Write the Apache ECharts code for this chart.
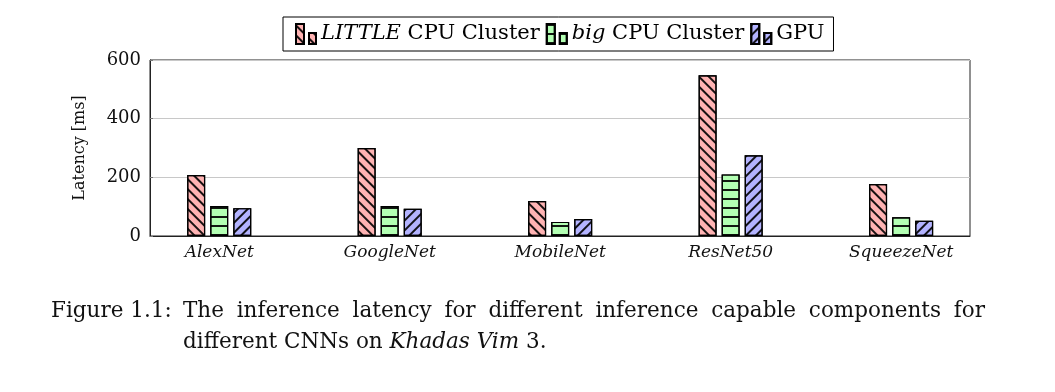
<!DOCTYPE html>
<html>
<head>
<meta charset="utf-8">
<script src="https://cdn.jsdelivr.net/npm/echarts@6/dist/echarts.min.js"></script>
<style>html,body{margin:0;padding:0;background:#fff}#c{width:1055px;height:392px}</style>
</head>
<body>
<div id="c"></div>
<script>
const categories = ['AlexNet', 'GoogleNet', 'MobileNet', 'ResNet50', 'SqueezeNet'];
const littleCpu = [208, 300, 119, 548, 177];
const bigCpu = [102, 102, 48, 210, 64];
const gpu = [95, 93, 58, 275, 52];
const yTicks = [0, 200, 400, 600];
const seriesNames = ['LITTLE CPU Cluster', 'big CPU Cluster', 'GPU'];
const captionLabel = 'Figure 1.1:';
const captionLine1 = 'The inference latency for different inference capable components for';
const captionLine2 = 'different CNNs on {i|Khadas Vim} 3.';

const SERIF = '"DejaVu Serif", "Liberation Serif", serif';
const CAP_SIZE = 21.5;
const iconPath = 'path://M0,0h8v20h-8z M13,9h7v11h-7z';

// justify first caption line to the text block width
const ctx = document.createElement('canvas').getContext('2d');
ctx.font = CAP_SIZE + 'px "DejaVu Serif"';
const words = captionLine1.split(' ');
const wordsWidth = words.reduce((a, w) => a + ctx.measureText(w).width, 0);
const spaceW = Math.max(ctx.measureText(' ').width, (802 - wordsWidth) / (words.length - 1));

function mkDecal(rot, gap) {
  return { symbol: 'rect', symbolSize: 1, dashArrayX: [1, 0], dashArrayY: [1.1, gap], rotation: rot, color: 'rgba(0,0,0,0.9)' };
}
function mkSeries(name, vals, fill, decal) {
  return {
    name: name, type: 'bar', barWidth: 18, barGap: '28%',
    data: vals.map((v, i) => [i, v]),
    itemStyle: { color: fill, borderColor: '#000', borderWidth: 1.2, decal: decal },
    emphasis: { disabled: true }
  };
}
const chart = echarts.init(document.getElementById('c'), null, { renderer: 'canvas' });
chart.setOption({
  animation: false,
  backgroundColor: '#fff',
  title: [
    { text: captionLabel, left: 46, top: 295, textStyle: { fontFamily: SERIF, fontSize: CAP_SIZE, fontWeight: 'normal', color: '#111' } },
    { text: words.join('{s| }') + '\n' + captionLine2, left: 178, top: 291,
      textStyle: { fontFamily: SERIF, fontSize: CAP_SIZE, fontWeight: 'normal', color: '#111', lineHeight: 31,
        rich: {
          s: { fontFamily: SERIF, fontSize: CAP_SIZE, width: spaceW, lineHeight: 31 },
          i: { fontFamily: SERIF, fontSize: CAP_SIZE, fontStyle: 'italic', color: '#111', lineHeight: 31 }
        } } }
  ],
  legend: {
    left: 283, top: 17, itemGap: 6, itemWidth: 20, itemHeight: 20, padding: [6, 9, 6, 12],
    borderColor: '#000', borderWidth: 1, icon: iconPath,
    data: seriesNames,
    formatter: function (n) {
      if (n === 'LITTLE CPU Cluster') return '{i|LITTLE} CPU Cluster';
      if (n === 'big CPU Cluster') return '{i|big} CPU Cluster';
      return n;
    },
    textStyle: { fontFamily: SERIF, fontSize: 21, color: '#000',
      rich: { i: { fontFamily: SERIF, fontSize: 21, fontStyle: 'italic', color: '#000' } } }
  },
  grid: { left: 150, right: 85, top: 60, bottom: 156, show: true, borderColor: '#222', borderWidth: 1 },
  xAxis: {
    type: 'value', min: -0.406, max: 4.404,
    axisLine: { show: true, onZero: false, lineStyle: { color: '#222', width: 1 } },
    axisTick: { show: true, inside: true, length: 3, customValues: [0, 1, 2, 3, 4], lineStyle: { color: '#777' } },
    splitLine: { show: false },
    axisLabel: { customValues: [0, 1, 2, 3, 4], formatter: v => categories[Math.round(v)], fontFamily: SERIF, fontStyle: 'italic', fontSize: 17, color: '#111', margin: 8 }
  },
  yAxis: {
    type: 'value', min: 0, max: 600, interval: 200,
    name: 'Latency [ms]', nameLocation: 'middle', nameGap: 62, nameRotate: 90,
    nameTextStyle: { fontFamily: SERIF, fontSize: 16, color: '#111' },
    axisLine: { show: true, onZero: false, lineStyle: { color: '#222', width: 1 } },
    axisTick: { show: true, inside: true, length: 3, lineStyle: { color: '#777' } },
    splitLine: { show: true, lineStyle: { color: '#c8c8c8', width: 1 } },
    axisLabel: { customValues: yTicks, fontFamily: SERIF, fontSize: 18, color: '#111', margin: 9 }
  },
  series: [
    mkSeries(seriesNames[0], littleCpu, '#ffb3b3', mkDecal(Math.PI / 4, 5)),
    mkSeries(seriesNames[1], bigCpu, '#b3ffb3', mkDecal(0, 6.6)),
    mkSeries(seriesNames[2], gpu, '#b3b3ff', mkDecal(-Math.PI / 4, 5))
  ]
});
</script>
</body>
</html>
